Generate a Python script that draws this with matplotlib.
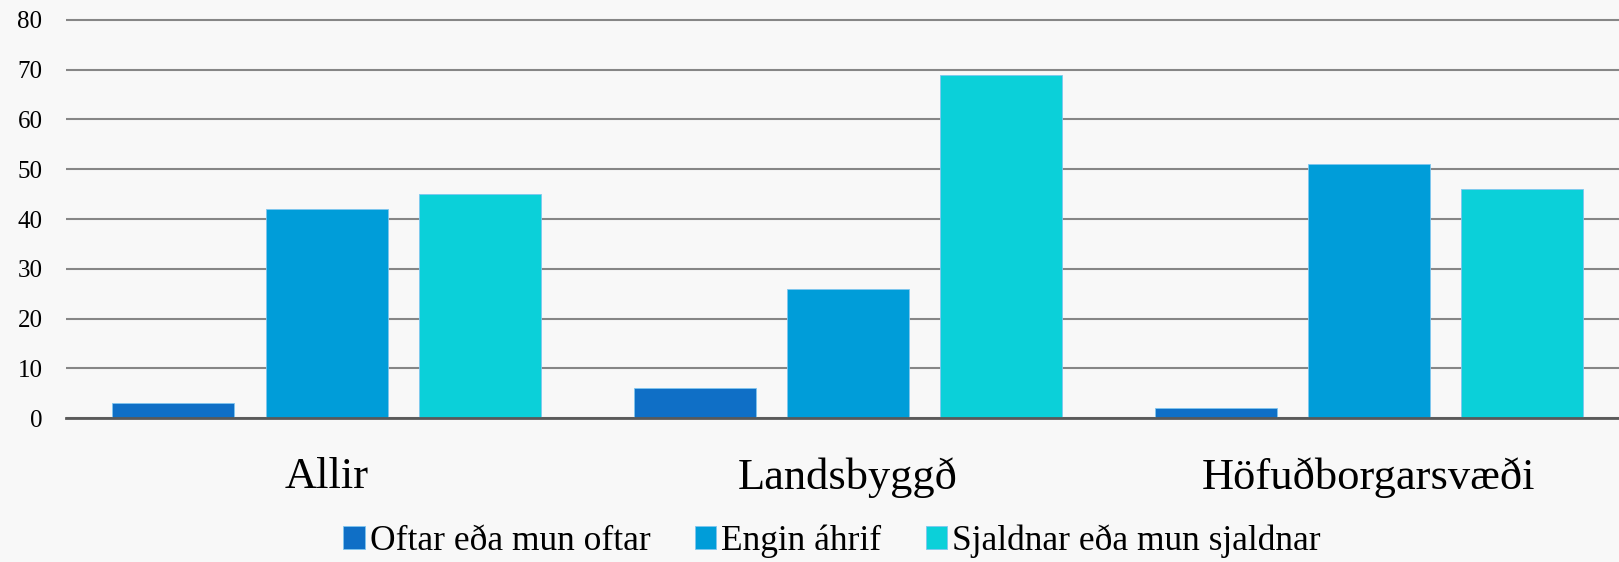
import matplotlib
matplotlib.use("Agg")
import matplotlib.pyplot as plt
import numpy as np

categories = ["Allir", "Landsbyggð", "Höfuðborgarsvæði"]
series_names = ["Oftar eða mun oftar", "Engin áhrif", "Sjaldnar eða mun sjaldnar"]
oftar = [3, 6, 2]
engin = [42, 26, 51]
sjaldnar = [45, 69, 46]
colors = ["#0F6FC6", "#009DD9", "#0BD0D9"]
yticks = [0, 10, 20, 30, 40, 50, 60, 70, 80]


def main():
    plt.rcParams["font.family"] = ["Liberation Serif", "DejaVu Serif"]
    fig = plt.figure(figsize=(16.19, 5.62), dpi=100)
    fig.patch.set_facecolor("#f8f8f8")
    ax = fig.add_axes([0.0408, 0.2557, 0.9592, 0.7125])
    ax.set_facecolor("none")

    x = np.arange(len(categories))
    width = 0.234
    step = 0.294
    for i, (vals, name) in enumerate(zip([oftar, engin, sjaldnar], series_names)):
        ax.bar(x + (i - 1) * step, vals, width, color=colors[i], label=name,
               edgecolor="#7fc6ef", linewidth=0.6, zorder=3)

    ax.set_xlim(-0.5, 2.48)
    ax.set_ylim(0, 80.4)
    ax.set_yticks(yticks)
    ax.set_yticklabels([str(t) for t in yticks], fontsize=18)
    ax.set_xticks(x)
    ax.set_xticklabels(categories, fontsize=32)
    ax.tick_params(axis="y", length=0, pad=17)
    ax.tick_params(axis="x", length=0, pad=28)
    ax.grid(axis="y", color="#868686", linewidth=1.5, zorder=1)
    for side in ["top", "right", "left"]:
        ax.spines[side].set_visible(False)
    ax.spines["bottom"].set_color("#595959")
    ax.spines["bottom"].set_linewidth(2)
    ax.spines["bottom"].set_zorder(4)

    fig.legend(loc="center", bbox_to_anchor=(0.514, 0.037), ncol=3, frameon=False,
               fontsize=25.5, handlelength=0.6, handleheight=0.6, handletextpad=0.15,
               columnspacing=1.25)
    fig.savefig("out.png", dpi=100, facecolor=fig.get_facecolor())


if __name__ == "__main__":
    main()
